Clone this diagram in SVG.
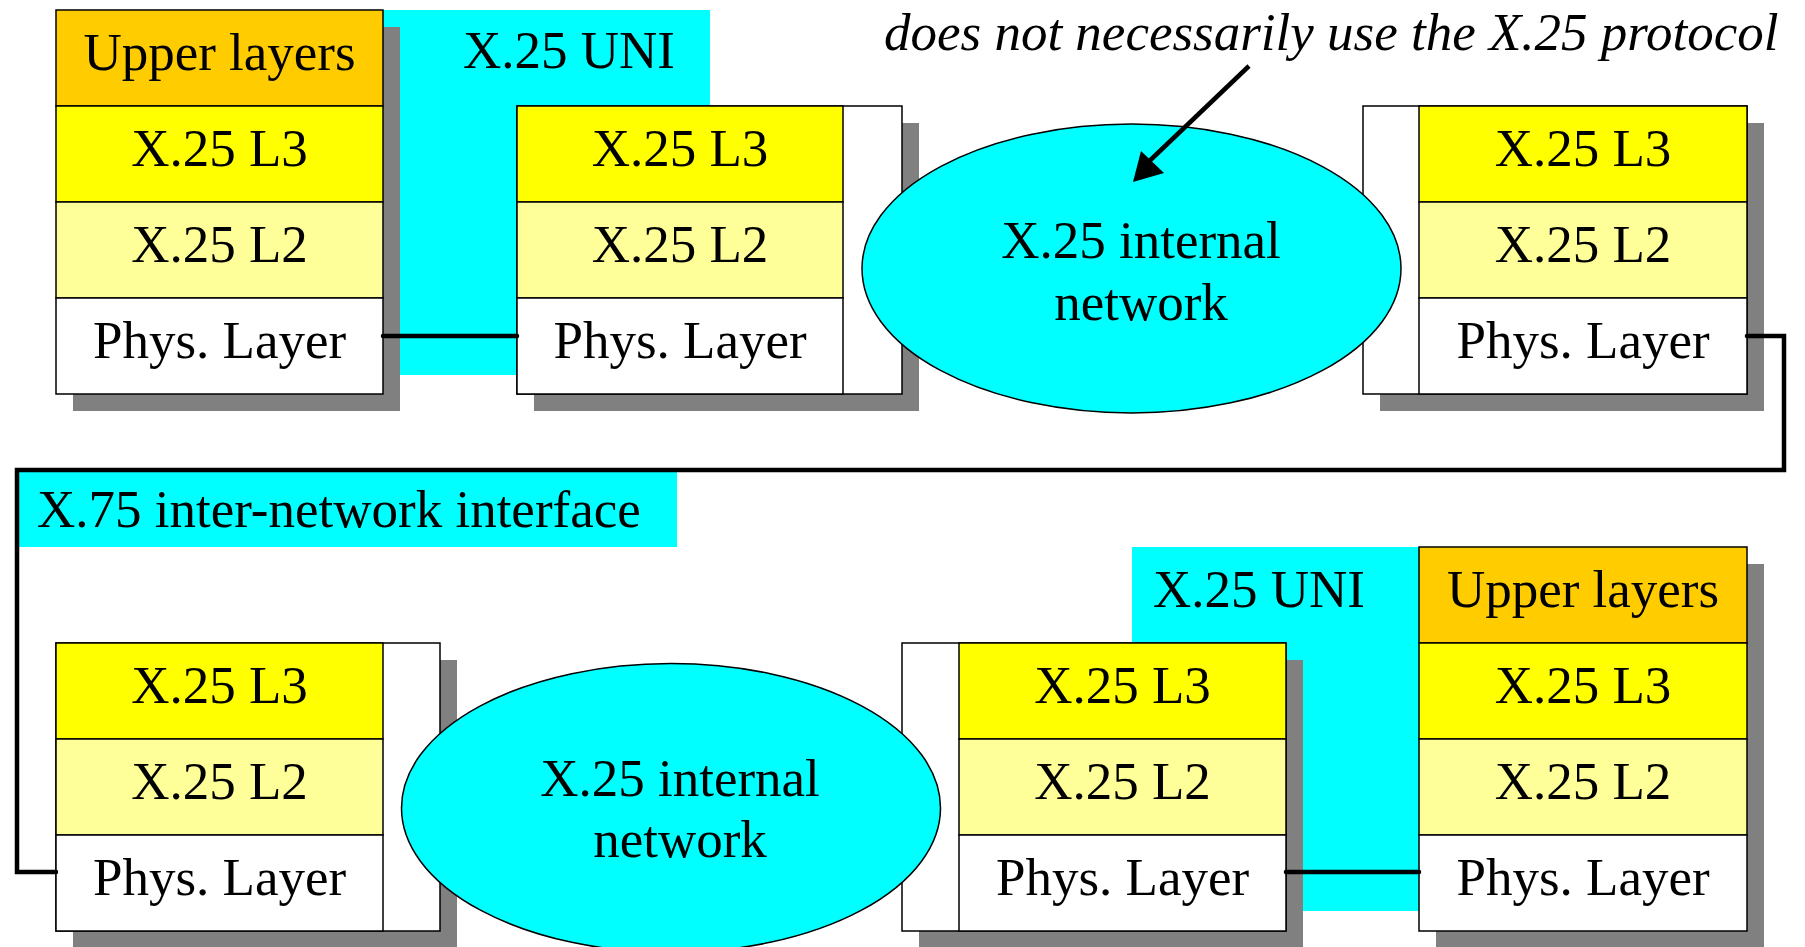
<svg xmlns="http://www.w3.org/2000/svg" width="1805" height="947" viewBox="0 0 1805 947">
<style>
.t{font-family:"Liberation Serif","Times New Roman",serif;font-size:53px;fill:#000;text-anchor:middle}
.ti{font-family:"Liberation Serif","Times New Roman",serif;font-size:53px;font-style:italic;fill:#000}
.lt{font-family:"Liberation Serif","Times New Roman",serif;font-size:53px;fill:#000}
.sh{fill:#808080}
.cy{fill:#00FFFF}
.b{stroke:#000;stroke-width:1.5}
.up{fill:#FFCC00}
.l3{fill:#FFFF00}
.l2{fill:#FFFF99}
.ph{fill:#FFFFFF}
.ell{fill:#00FFFF;stroke:#000;stroke-width:1.5}
.con{fill:none;stroke:#000;stroke-width:4.5;stroke-linecap:round;stroke-linejoin:miter}
</style>
<rect width="1805" height="947" fill="#fff"/>

<g id="bg-labels">
<rect class="cy" x="383" y="10" width="327" height="365"/>
<text class="t" x="569" y="68">X.25 UNI</text>
<rect class="cy" x="1132" y="547" width="287" height="364"/>
<text class="t" x="1259" y="607">X.25 UNI</text>
<rect class="cy" x="19" y="472" width="658" height="75"/>
<text class="lt" x="37" y="527">X.75 inter-network interface</text>
</g>

<g id="stack-tl">
<rect class="sh" x="73" y="27" width="327" height="384"/>
<rect class="up b" x="56" y="10" width="327" height="96"/>
<rect class="l3 b" x="56" y="106" width="327" height="96"/>
<rect class="l2 b" x="56" y="202" width="327" height="96"/>
<rect class="ph b" x="56" y="298" width="327" height="96"/>
<text class="t" x="219.5" y="70">Upper layers</text>
<text class="t" x="219.5" y="166">X.25 L3</text>
<text class="t" x="219.5" y="262">X.25 L2</text>
<text class="t" x="219.5" y="358">Phys. Layer</text>
</g>

<g id="stack-tm">
<rect class="sh" x="534" y="123" width="385" height="288"/>
<rect class="ph b" x="517" y="106" width="385" height="288"/>
<rect class="l3 b" x="517" y="106" width="326" height="96"/>
<rect class="l2 b" x="517" y="202" width="326" height="96"/>
<rect class="ph b" x="517" y="298" width="326" height="96"/>
<text class="t" x="680" y="166">X.25 L3</text>
<text class="t" x="680" y="262">X.25 L2</text>
<text class="t" x="680" y="358">Phys. Layer</text>
</g>

<g id="stack-tr">
<rect class="sh" x="1380" y="123" width="384" height="288"/>
<rect class="ph b" x="1363" y="106" width="384" height="288"/>
<rect class="l3 b" x="1419" y="106" width="328" height="96"/>
<rect class="l2 b" x="1419" y="202" width="328" height="96"/>
<rect class="ph b" x="1419" y="298" width="328" height="96"/>
<text class="t" x="1583" y="166">X.25 L3</text>
<text class="t" x="1583" y="262">X.25 L2</text>
<text class="t" x="1583" y="358">Phys. Layer</text>
</g>

<g id="stack-bl">
<rect class="sh" x="73" y="660" width="384" height="288"/>
<rect class="ph b" x="56" y="643" width="384" height="288"/>
<rect class="l3 b" x="56" y="643" width="327" height="96"/>
<rect class="l2 b" x="56" y="739" width="327" height="96"/>
<rect class="ph b" x="56" y="835" width="327" height="96"/>
<text class="t" x="219.5" y="703">X.25 L3</text>
<text class="t" x="219.5" y="799">X.25 L2</text>
<text class="t" x="219.5" y="895">Phys. Layer</text>
</g>

<g id="stack-bm">
<rect class="sh" x="919" y="660" width="384" height="288"/>
<rect class="ph b" x="902" y="643" width="384" height="288"/>
<rect class="l3 b" x="959" y="643" width="327" height="96"/>
<rect class="l2 b" x="959" y="739" width="327" height="96"/>
<rect class="ph b" x="959" y="835" width="327" height="96"/>
<text class="t" x="1122.5" y="703">X.25 L3</text>
<text class="t" x="1122.5" y="799">X.25 L2</text>
<text class="t" x="1122.5" y="895">Phys. Layer</text>
</g>

<g id="stack-br">
<rect class="sh" x="1436" y="564" width="328" height="384"/>
<rect class="up b" x="1419" y="547" width="328" height="96"/>
<rect class="l3 b" x="1419" y="643" width="328" height="96"/>
<rect class="l2 b" x="1419" y="739" width="328" height="96"/>
<rect class="ph b" x="1419" y="835" width="328" height="96"/>
<text class="t" x="1583" y="607">Upper layers</text>
<text class="t" x="1583" y="703">X.25 L3</text>
<text class="t" x="1583" y="799">X.25 L2</text>
<text class="t" x="1583" y="895">Phys. Layer</text>
</g>

<g id="net-top">
<ellipse class="ell" cx="1131.5" cy="268.5" rx="269.5" ry="144.5"/>
<text class="t" x="1141" y="258">X.25 internal</text>
<text class="t" x="1141" y="320">network</text>
</g>

<g id="net-bottom">
<ellipse class="ell" cx="671" cy="808" rx="269.5" ry="144.5"/>
<text class="t" x="680" y="796">X.25 internal</text>
<text class="t" x="680" y="857">network</text>
</g>

<g id="note">
<text class="ti" x="884" y="50">does not necessarily use the X.25 protocol</text>
</g>

<g id="connectors">
<line class="con" x1="383" y1="336" x2="517" y2="336"/>
<polyline class="con" points="1747,336 1784,336 1784,470 17,470 17,872 56,872"/>
<line class="con" x1="1286" y1="872" x2="1419" y2="872"/>
<line x1="1249" y1="66" x2="1140" y2="170" stroke="#000" stroke-width="4.5"/>
<path d="M1133,182 L1141,151 L1164,173 z" fill="#000"/>
</g>
</svg>
